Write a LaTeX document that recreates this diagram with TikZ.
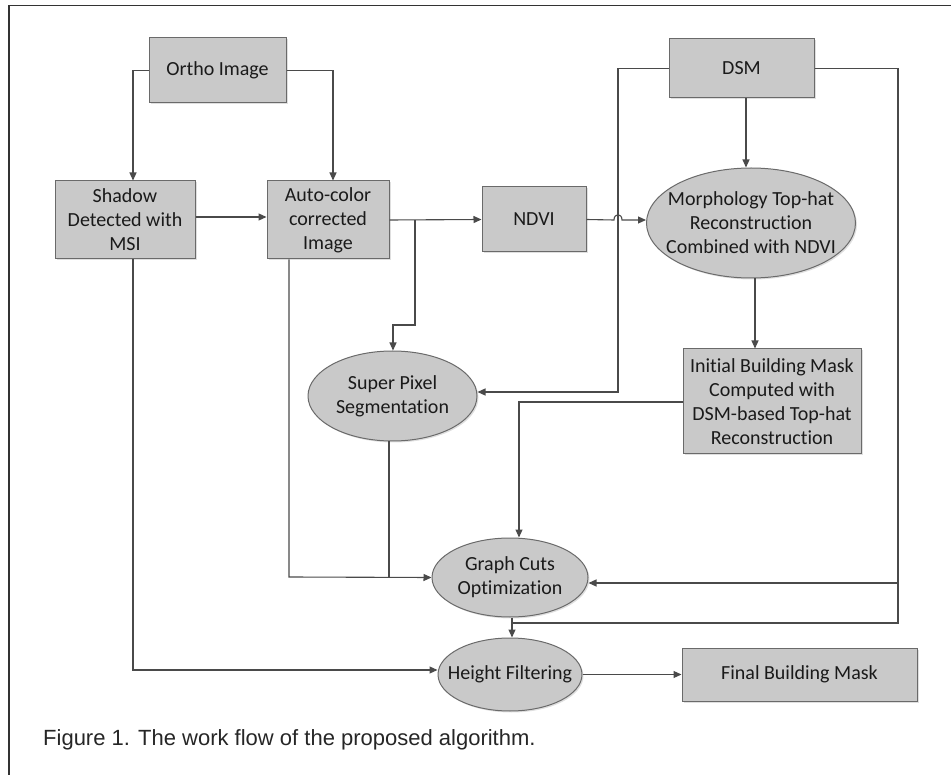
\documentclass[tikz,border=0pt]{standalone}
\usepackage{fontspec}
\setmainfont[RawFeature={-liga;-clig;-calt;-dlig}]{Carlito}
\newfontfamily\capfont{Liberation Sans}
\usetikzlibrary{arrows.meta,shapes.geometric,shadows}
\definecolor{boxfill}{HTML}{C9C9C9}
\definecolor{boxline}{HTML}{6A6A6A}
\definecolor{conn}{HTML}{4A4A4A}
\definecolor{txt}{HTML}{1A1A1A}
\tikzset{
  base/.style={draw=boxline, line width=1pt, fill=boxfill, text=txt, align=center,
    font=\fontsize{20}{24}\selectfont,
    drop shadow={opacity=0.25, shadow xshift=1.5pt, shadow yshift=-1.5pt}},
  procbox/.style={base, rectangle, inner sep=0pt},
  procell/.style={base, ellipse, inner xsep=-40pt, inner ysep=-6pt},
  conn/.style={draw=conn, line width=1.1pt},
  arr/.style={conn, -{Triangle[length=8pt,width=7pt]}},
  frameline/.style={draw=black!80, line width=1.5pt}
}
\begin{document}
\begin{tikzpicture}[x=1pt,y=-1pt]
\useasboundingbox (0,0) rectangle (951,775);
\draw[frameline] (951,5.5) -- (9,5.5) -- (9,775);

% nodes
\node[procbox, minimum width=137pt, minimum height=65pt] (ortho) at (217.5,70.5) {Ortho Image};
\node[procbox, minimum width=140pt, minimum height=78pt] (shadow) at (125,220) {Shadow\\Detected with\\MSI};
\node[procbox, minimum width=122pt, minimum height=78pt] (auto) at (328,220) {Auto-color\\corrected\\Image};
\node[procbox, minimum width=104pt, minimum height=65pt] (ndvi) at (534,219.5) {NDVI};
\node[procbox, minimum width=145pt, minimum height=59pt] (dsm) at (741.5,68.5) {DSM};
\node[procell, minimum width=209pt, minimum height=110pt] (morph) at (751,223) {Morphology Top-hat\\Reconstruction\\Combined with NDVI};
\node[procell, minimum width=169pt, minimum height=90pt] (super) at (392.5,396) {Super Pixel\\Segmentation};
\node[procbox, minimum width=178pt, minimum height=105pt] (init) at (772,401.5) {Initial Building Mask\\Computed with\\DSM-based Top-hat\\Reconstruction};
\node[procell, minimum width=156pt, minimum height=79pt] (graph) at (510,577.5) {Graph Cuts\\Optimization};
\node[procell, minimum width=144pt, minimum height=73pt] (height) at (510,674.5) {Height Filtering};
\node[procbox, minimum width=235pt, minimum height=53pt] (final) at (799.5,674.5) {Final Building Mask};

% helper coordinates
\coordinate (autobr) at (415,220);
\coordinate (dsmj) at (898,583);
\coordinate (gcj) at (389,577);

% connectors
\draw[arr] (ortho.west) -- (133,70.5) -- (shadow.north -| 133,0);
\draw[arr] (ortho.east) -- (333,70.5) -- (auto.north -| 333,0);
\draw[arr] (shadow.east |- 0,217) -- (auto.west |- 0,217);
\draw[arr] (auto.east) -- (ndvi.west);
\draw[arr] (autobr) -- (415,325) -- (393,325) -- (super.north -| 393,0);
\draw[arr] (ndvi.east) -- (614,220) .. controls (614,213) and (622,213) .. (622,220) -- (morph.west |- 0,220);
\draw[arr] (dsm.south -| 746,0) -- (morph.north -| 746,0);
\draw[arr] (morph.south -| 755,0) -- (init.north -| 755,0);
\draw[arr] (dsm.west) -- (618,68.5) -- (618,392) -- (super.east |- 0,392);
\draw[arr] (init.west |- 0,402) -- (519,402) -- (graph.north -| 519,0);
\draw[arr] (auto.south -| 289,0) -- (289,577) -- (graph.west);
\draw[conn] (super.south -| gcj) -- (gcj);
\draw[arr] (dsm.east) -- (898,68.5) -- (898,623) -- (512,623) -- (height.north -| 512,0);
\draw[arr] (dsmj) -- (graph.east |- dsmj);
\draw[conn] (graph.south -| 512,0) -- (512,623);
\draw[arr] (shadow.south -| 133,0) -- (133,670) -- (height.west |- 0,670);
\draw[arr] (height.east) -- (final.west);

% caption
\node[anchor=west, text=black!85, font=\capfont\fontsize{22}{26}\selectfont, inner sep=0pt] (cap) at (43,740) {Figure 1. The work flow of the proposed algorithm.};
\end{tikzpicture}
\end{document}
